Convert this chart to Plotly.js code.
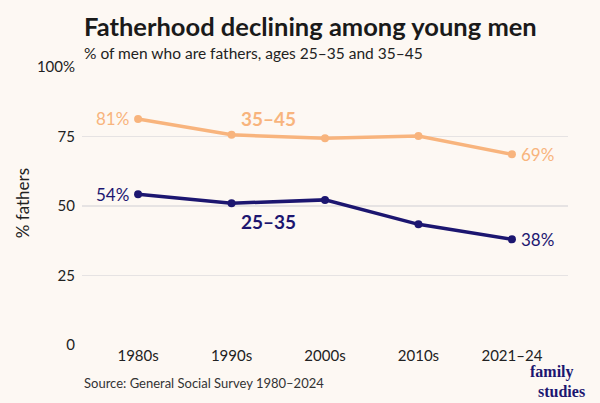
<!DOCTYPE html>
<html>
<head>
<meta charset="utf-8">
<script src="https://cdn.plot.ly/plotly-3.0.1.min.js"></script>
<style>
  html, body { margin: 0; padding: 0; background: #FDF8F3; }
  #chart { width: 600px; height: 403px; }
</style>
</head>
<body>
<div id="chart"></div>
<script>
const categories = ['1980s', '1990s', '2000s', '2010s', '2021–24'];
const ages35to45 = [81.3, 75.6, 74.4, 75.2, 68.6];
const ages25to35 = [54.2, 51.0, 52.2, 43.4, 38.0];
const yTickVals = [0, 25, 50, 75, 100];
const yTickText = ['0', '25', '50', '75', '100%'];
const orangeLabels = ['81%', '69%'];
const navyLabels = ['54%', '38%'];

const ORANGE = '#F8B47D';
const NAVY = '#1C1670';
const FONT = 'Lato, "Open Sans", sans-serif';
const SERIF = '"Liberation Serif", "DejaVu Serif", serif';

const traces = [
  {
    x: categories, y: ages35to45, type: 'scatter', mode: 'lines+markers',
    line: { color: ORANGE, width: 3.5 }, marker: { color: ORANGE, size: 8 },
    hoverinfo: 'skip', cliponaxis: false
  },
  {
    x: categories, y: ages25to35, type: 'scatter', mode: 'lines+markers',
    line: { color: NAVY, width: 3.5 }, marker: { color: NAVY, size: 8 },
    hoverinfo: 'skip', cliponaxis: false
  }
];

const last = categories.length - 1;
const annotations = [
  { x: categories[0], y: ages35to45[0], text: orangeLabels[0], xanchor: 'right', xshift: -7, showarrow: false, font: { family: FONT, size: 17, color: ORANGE } },
  { x: categories[last], y: ages35to45[last], text: orangeLabels[1], xanchor: 'left', xshift: 7, showarrow: false, font: { family: FONT, size: 17, color: ORANGE } },
  { x: categories[0], y: ages25to35[0], text: navyLabels[0], xanchor: 'right', xshift: -7, showarrow: false, font: { family: FONT, size: 17, color: NAVY } },
  { x: categories[last], y: ages25to35[last], text: navyLabels[1], xanchor: 'left', xshift: 7, showarrow: false, font: { family: FONT, size: 17, color: NAVY } },
  { x: 1.4, y: 81.4, xref: 'x', text: '<b>35–45</b>', showarrow: false, font: { family: FONT, size: 19, color: ORANGE } },
  { x: 1.4, y: 44.3, xref: 'x', text: '<b>25–35</b>', showarrow: false, font: { family: FONT, size: 19, color: NAVY } },
  { xref: 'paper', yref: 'paper', x: 0, y: 1.1475, xanchor: 'left', yanchor: 'middle', text: '<b>Fatherhood declining among young men</b>', showarrow: false, font: { family: FONT, size: 25.5, color: '#1a1a1a' } },
  { xref: 'paper', yref: 'paper', x: 0, y: 1.052, xanchor: 'left', yanchor: 'middle', text: '% of men who are fathers, ages 25–35 and 35–45', showarrow: false, font: { family: FONT, size: 15.5, color: '#222' } },
  { xref: 'paper', yref: 'paper', x: 0, y: -0.137, xanchor: 'left', yanchor: 'middle', text: 'Source: General Social Survey 1980–2024', showarrow: false, font: { family: FONT, size: 13, color: '#333' } },
  { xref: 'paper', yref: 'paper', x: (22 - 82) / 486, y: 0.51, xanchor: 'center', yanchor: 'middle', textangle: -90, text: '% fathers', showarrow: false, font: { family: FONT, size: 17, color: '#222' } },
  { xref: 'paper', yref: 'paper', x: (552 - 82) / 486, y: (345 - 372) / 278, xanchor: 'center', yanchor: 'middle', borderpad: 0, text: '<b>family</b>', showarrow: false, font: { family: SERIF, size: 16, color: NAVY } },
  { xref: 'paper', yref: 'paper', x: (561 - 82) / 486, y: (345 - 391) / 278, xanchor: 'center', yanchor: 'middle', borderpad: 0, text: '<b>studies</b>', showarrow: false, font: { family: SERIF, size: 16, color: NAVY } }
];

const layout = {
  width: 600, height: 403,
  paper_bgcolor: '#FDF8F3', plot_bgcolor: '#FDF8F3',
  margin: { l: 82, r: 32, t: 67, b: 58, pad: 0 },
  showlegend: false,
  font: { family: FONT, color: '#222' },
  xaxis: {
    type: 'category', range: [-0.6, 4.6], showgrid: false, zeroline: false, showline: false,
    ticks: '', tickfont: { family: FONT, size: 15, color: '#222' }, fixedrange: true
  },
  yaxis: {
    range: [0, 100], tickvals: yTickVals, ticktext: yTickText, showgrid: true,
    gridcolor: '#E6E3E3', gridwidth: 1.5, zeroline: false, showline: false, ticks: '',
    ticklabelstandoff: 6, tickfont: { family: FONT, size: 15, color: '#222' }, fixedrange: true
  },
  annotations: annotations
};

Plotly.newPlot('chart', traces, layout, { staticPlot: true, displayModeBar: false });
</script>
</body>
</html>
